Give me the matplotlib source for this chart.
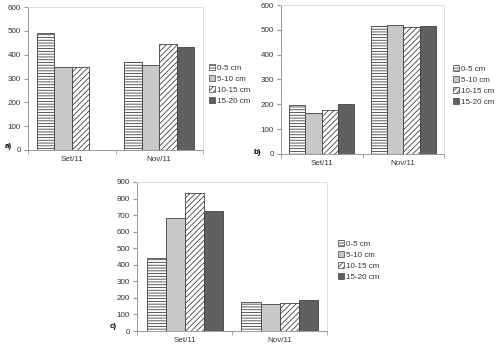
import numpy as np
import matplotlib.pyplot as plt
from matplotlib.patches import Patch

months = ["Set/11", "Nov/11"]
layers = ["0-5 cm", "5-10 cm", "10-15 cm", "15-20 cm"]

# values per layer, [Set/11, Nov/11]
a_vals = [[490, 368], [350, 357], [350, 445], [0, 432]]
b_vals = [[198, 515], [165, 518], [178, 510], [200, 515]]
c_vals = [[440, 175], [685, 165], [832, 170], [725, 188]]

faces = ["white", "#c8c8c8", "white", "#606060"]
hatches = ["------", None, "//////", None]

plt.rcParams["hatch.linewidth"] = 0.6
plt.rcParams["font.family"] = ["Liberation Sans", "DejaVu Sans"]
FS = 5.8

W, H = 501, 350
fig = plt.figure(figsize=(W / 100, H / 100), dpi=100)


def px_axes(x0, x1, y0, y1):
    return fig.add_axes([x0 / W, 1 - y1 / H, (x1 - x0) / W, (y1 - y0) / H])


def draw(ax, vals, ymax, step):
    n = len(layers)
    w = 1 / (n + 1)
    x = np.arange(len(months))
    for i in range(n):
        ax.bar(x - 2 * w + (i + 0.5) * w, vals[i], w, color=faces[i],
               hatch=hatches[i], edgecolor="#404040", linewidth=0.6)
    ax.set_xlim(-0.5, len(months) - 0.5)
    ax.set_ylim(0, ymax)
    ax.set_yticks(np.arange(0, ymax + 1, step))
    ax.set_xticks(x)
    ax.set_xticklabels(months)
    ax.set_xticks(np.arange(-0.5, len(months), 1), minor=True)
    ax.tick_params(axis="x", which="major", length=0, labelsize=FS, pad=4,
                   colors="#333333")
    ax.tick_params(axis="x", which="minor", length=3, color="#999999")
    ax.tick_params(axis="y", length=3, labelsize=FS, color="#999999",
                   labelcolor="#333333", pad=2)
    for s in ["left", "bottom"]:
        ax.spines[s].set_color("#999999")
        ax.spines[s].set_linewidth(0.7)
    for s in ["top", "right"]:
        ax.spines[s].set_color("#dddddd")
        ax.spines[s].set_linewidth(0.7)


def legend(x, y):
    handles = [Patch(facecolor=faces[i], hatch=hatches[i], edgecolor="#404040",
                     linewidth=0.5) for i in range(len(layers))]
    fig.legend(handles, layers, loc="upper left", bbox_to_anchor=(x / W, 1 - y / H),
               frameon=False, fontsize=FS, handlelength=0.75, handleheight=0.75,
               handletextpad=0.3, labelspacing=0.4, borderpad=0, borderaxespad=0,
               labelcolor="#333333")


ax_a = px_axes(28, 203, 7, 150)
draw(ax_a, a_vals, 600, 100)
legend(209, 64)

ax_b = px_axes(281, 444, 5, 154)
draw(ax_b, b_vals, 600, 100)
legend(453, 65)

ax_c = px_axes(137, 327, 182, 331)
draw(ax_c, c_vals, 900, 100)
legend(338, 240)

fig.text(5 / W, 1 - 147 / H, "a)", fontsize=FS, weight="bold", va="center")
fig.text(254 / W, 1 - 153 / H, "b)", fontsize=FS, weight="bold", va="center")
fig.text(110 / W, 1 - 326 / H, "c)", fontsize=FS, weight="bold", va="center")

fig.savefig("out.png", dpi=100, facecolor="white")
